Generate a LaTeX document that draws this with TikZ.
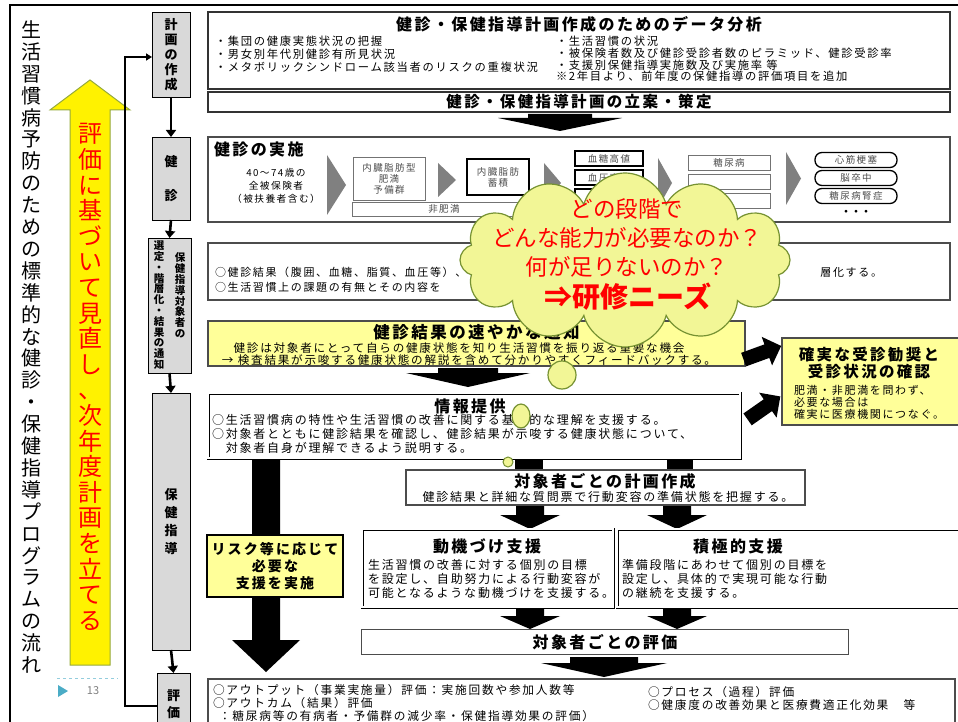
\documentclass[tikz,border=0pt]{standalone}
\usepackage{fontspec}
\setmainfont{Noto Sans CJK JP}
\newfontfamily\jsp{Noto Sans CJK JP}[LetterSpace=15]
\usetikzlibrary{arrows.meta,shapes.symbols,shapes.arrows,shapes.geometric}
\definecolor{boxgray}{HTML}{D9D9D9}
\definecolor{paleyellow}{HTML}{FFFF99}
\definecolor{cloudfill}{RGB}{242,246,150}
\definecolor{cloudedge}{RGB}{118,146,50}
\definecolor{arrowedge}{RGB}{150,170,60}
\definecolor{chevron}{HTML}{808080}
\definecolor{slideteal}{HTML}{4BACC6}
\newcommand\fsz[2]{\fontsize{#1}{#2}\selectfont}
% down-pointing block arrow: centre x, top y, shaft half-width, head half-width, shaft length, head length
\newcommand\blockdown[6]{%
  \fill[black] (#1-#3,#2) -- (#1+#3,#2) -- (#1+#3,#2+#5) -- (#1+#4,#2+#5)
    -- (#1,#2+#5+#6) -- (#1-#4,#2+#5) -- (#1-#3,#2+#5) -- cycle;}
% right-pointing grey chevron: left x, top y, bottom y, width
\newcommand\chev[4]{\fill[chevron] (#1,#2) -- (#1+#4,{(#2+#3)/2}) -- (#1,#3) -- cycle;}
\begin{document}
\begin{tikzpicture}[x=1pt,y=-1pt,
  every node/.style={inner sep=0pt,outer sep=0pt},
  framebox/.style={draw=black!80,line width=1.3pt},
  lcol/.style={draw,fill=boxgray,line width=0.8pt,font=\bfseries\fsz{13}{15},align=center},
  stepflow/.style={line width=2.6pt,-{Triangle[width=10pt,length=7pt]}},
  ttl/.style={font=\jsp\bfseries\fsz{16}{18}},
  smallbox/.style={draw,line width=0.6pt,font=\jsp\fsz{9.5}{11},text=black!70,align=center},
  tagbox/.style={draw,line width=1.3pt,rounded corners=7pt,font=\jsp\fsz{9.5}{11},text=black!70},
  dbl/.style={draw,double,double distance=1.4pt,line width=0.8pt},
  bentarrow/.style={single arrow,fill=black,inner sep=7pt,minimum height=40pt,single arrow head extend=8pt}
]
\useasboundingbox (0,0) rectangle (958,722);
\clip (0,0) rectangle (958,722);
\fill[white] (0,0) rectangle (958,722);

% slide frame
\draw[line width=2.5pt] (10,722) -- (10,5) -- (958,5);

% programme title, set vertically
\node[font=\fsz{20}{21.9},align=center] (title) at (31,347)
  {生\\活\\習\\慣\\病\\予\\防\\の\\た\\め\\の\\標\\準\\的\\な\\健\\診\\・\\保\\健\\指\\導\\プ\\ロ\\グ\\ラ\\ム\\の\\流\\れ};

% feedback arrow
\filldraw[fill=yellow,draw=arrowedge,line width=1pt]
  (70,665) -- (70,110) -- (50,110) -- (90,80) -- (130,110) -- (110,110) -- (110,665) -- cycle;
\node[text=red,font=\fsz{24}{25.6},align=center] (revise) at (90,377)
  {評\\価\\に\\基\\づ\\い\\て\\見\\直\\し\\、\\次\\年\\度\\計\\画\\を\\立\\て\\る};

% page number
\draw[slideteal!60,dashed] (57,678) -- (118,678);
\fill[slideteal] (58,685) -- (68,691) -- (58,697) -- cycle;
\node[text=black!50,font=\fsz{11}{11}] (pageno) at (93,691) {13};

% stage column
\node[lcol,minimum width=38pt,minimum height=85pt] (L1) at (171,54.5) {計\\画\\の\\作\\成};
\node[lcol,minimum width=38pt,minimum height=83pt] (L2) at (171,178.5) {健\\[19pt]診};
\node[lcol,minimum width=43pt,minimum height=135pt] (L3) at (169.5,305.5) {};
\node[font=\bfseries\fsz{10.5}{10.8},align=center,anchor=north] (L3a) at (159,241)
  {選\\定\\・\\階\\層\\化\\・\\結\\果\\の\\通\\知};
\node[font=\bfseries\fsz{10.5}{10.8},align=center,anchor=north] (L3b) at (180,253)
  {保\\健\\指\\導\\対\\象\\者\\の};
\node[lcol,minimum width=38pt,minimum height=257pt,font=\bfseries\fsz{13}{18}] (L4) at (171,521.5) {保\\健\\指\\導};
\node[lcol,minimum width=33pt,minimum height=62pt,font=\bfseries\fsz{13}{17}] (L5) at (173.5,704) {評\\価};
\draw[stepflow] (L1.south) -- (L2.north);
\draw[stepflow] (L2.south) -- (L3.north);
\draw[stepflow] (L3.south) -- (L4.north);
\draw[stepflow] (L4.south) -- (L5.north);
% loop back from evaluation to planning
\coordinate (bkb) at (125,706);
\coordinate (bkt) at (125,57);
\draw[line width=1.5pt,-{Triangle[width=7pt,length=6pt]}]
  (L5.west |- bkb) -- (bkb) -- (bkt) -- (L1.west |- bkt);

% data analysis
\node[framebox,minimum width=742pt,minimum height=77pt] (data) at (579,50.5) {};
\node[ttl] (dataT) at (579,24) {健診・保健指導計画作成のためのデータ分析};
\node[font=\jsp\fsz{11.3}{13},align=left,anchor=north west] (dataL) at (215,36)
  {・集団の健康実態状況の把握\\・男女別年代別健診有所見状況\\・メタボリックシンドローム該当者のリスクの重複状況};
\node[font=\jsp\fsz{11.3}{11.8},align=left,anchor=north west] (dataR) at (556,36)
  {・生活習慣の状況\\・被保険者数及び健診受診者数のピラミッド、健診受診率\\・支援別保健指導実施数及び実施率 等\\※2年目より、前年度の保健指導の評価項目を追加};
\node[framebox,minimum width=742pt,minimum height=20pt,font=\jsp\bfseries\fsz{15.5}{15.5}] (plan) at (579,102)
  {健診・保健指導計画の立案・策定};
\blockdown{560}{114}{32}{62}{4}{13}

% health check-up
\node[draw=black!70,line width=1.2pt,minimum width=742pt,minimum height=85pt] (exam) at (579,179.5) {};
\node[font=\jsp\bfseries\fsz{16}{16},anchor=west] (examT) at (214,149) {健診の実施};
\node[font=\jsp\fsz{9.7}{13},align=center] (pop) at (276,186) {40～74歳の\\全被保険者\\（被扶養者含む）};
\chev{327}{155}{215}{19}
\node[smallbox,draw=black!55,minimum width=72pt,minimum height=43pt] (pre) at (389,178.5) {内臓脂肪型\\肥満\\予備群};
\chev{438}{163}{197}{18}
\node[smallbox,line width=1.6pt,minimum width=62pt,minimum height=36pt] (fat) at (498,177) {内臓脂肪\\蓄積};
\node[smallbox,draw=black!55,minimum width=183pt,minimum height=14pt] (nonob) at (444,209) {非肥満};
\chev{544}{163}{203}{17}
\node[smallbox,line width=1.6pt,minimum width=68pt,minimum height=15pt] (bg) at (609,158.5) {血糖高値};
\node[smallbox,line width=1.6pt,minimum width=68pt,minimum height=15pt] (bp) at (609,177.5) {血圧高値};
\node[smallbox,line width=1.6pt,minimum width=68pt,minimum height=15pt] (lp) at (609,196.5) {};
\chev{658}{158}{208}{14}
\node[smallbox,draw=black!55,minimum width=82pt,minimum height=15pt] (dm) at (729,162.5) {糖尿病};
\node[smallbox,draw=black!55,minimum width=82pt,minimum height=15pt] (ht) at (729,181.5) {};
\node[smallbox,draw=black!55,minimum width=82pt,minimum height=15pt] (dl) at (729,200.5) {};
\chev{786}{152}{205}{15}
\node[tagbox,minimum width=82pt,minimum height=15pt] (mi) at (856,160) {心筋梗塞};
\node[tagbox,minimum width=82pt,minimum height=15pt] (st) at (856,178) {脳卒中};
\node[tagbox,minimum width=82pt,minimum height=15pt] (dn) at (856,196) {糖尿病腎症};
\node[font=\bfseries\fsz{10}{10}] (etc) at (856,213) {・・・};

% selection and stratification
\node[draw=black!70,line width=1.2pt,minimum width=742pt,minimum height=57pt] (sel) at (579,271.5) {};
\node[font=\jsp\fsz{11}{15},align=left,anchor=west] (selL) at (215,279.5)
  {○健診結果（腹囲、血糖、脂質、血圧等）、\\○生活習慣上の課題の有無とその内容を};
\node[font=\jsp\fsz{11}{15},anchor=east] (selR) at (882,272) {層化する。};

% prompt notification of results
\node[draw=black!70,fill=paleyellow,line width=1.2pt,minimum width=537pt,minimum height=45pt] (notify) at (476.5,343.5) {};
\node[font=\jsp\bfseries\fsz{16.5}{16.5}] (notifyT) at (476.5,332) {健診結果の速やかな通知};
\node[font=\jsp\fsz{11.6}{11.5},align=left] (notifyB) at (469,354)
  {\hspace*{11.7pt}健診は対象者にとって自らの健康状態を知り生活習慣を振り返る重要な機会\\→\ 検査結果が示唆する健康状態の解説を含めて分かりやすくフィードバックする。};
\blockdown{468}{368}{30}{62}{5}{14}

% referral
\node[draw=black!70,fill=paleyellow,line width=1.2pt,minimum width=188pt,minimum height=87pt] (confirm) at (876,381.5) {};
\node[font=\jsp\bfseries\fsz{15.5}{17},align=center] (confirmT) at (869,363) {確実な受診勧奨と\\受診状況の確認};
\node[font=\jsp\fsz{11}{12.2},align=left,anchor=north west] (confirmB) at (794,385)
  {肥満・非肥満を問わず、\\必要な場合は\\確実に医療機関につなぐ。};
\node[bentarrow,rotate=20] (toconf1) at (759,354) {};
\node[bentarrow,rotate=35] (toconf2) at (761,410) {};

% information
\node[dbl,minimum width=532pt,minimum height=65pt] (info) at (474,425.5) {};
\node[ttl] (infoT) at (470,406) {情報提供};
\node[font=\jsp\fsz{12}{14},align=left,anchor=north west] (infoB) at (212,414)
  {○生活習慣病の特性や生活習慣の改善に関する基礎的な理解を支援する。\\○対象者とともに健診結果を確認し、健診結果が示唆する健康状態について、\\\hspace*{13.8pt}対象者自身が理解できるよう説明する。};

% support according to risk
\blockdown{266}{460}{14}{34}{180}{32}
\node[draw,fill=paleyellow,line width=1.8pt,minimum width=136pt,minimum height=62pt,font=\jsp\bfseries\fsz{14}{17},align=center] (risk) at (275,566)
  {リスク等に応じて\\必要な\\支援を実施};

% individual plan
\fill[black] (515,459) rectangle (543,470);
\fill[black] (667,459) rectangle (693,470);
\node[draw=black!70,line width=1.2pt,minimum width=399pt,minimum height=35pt] (iplan) at (605.5,487.5) {};
\node[ttl] (iplanT) at (605,481) {対象者ごとの計画作成};
\node[font=\jsp\fsz{12}{12}] (iplanB) at (608,497) {健診結果と詳細な質問票で行動変容の準備状態を把握する。};
\blockdown{530}{506}{14}{30}{9}{14}
\blockdown{677}{506}{14}{30}{9}{14}

% motivational and active support
\node[dbl,minimum width=251pt,minimum height=78pt] (motiv) at (487.5,568) {};
\node[ttl] (motivT) at (487,546) {動機づけ支援};
\node[font=\jsp\fsz{12}{14},align=left,anchor=north west] (motivB) at (368,559)
  {生活習慣の改善に対する個別の目標\\を設定し、自助努力による行動変容が\\可能となるような動機づけを支援する。};
\node[dbl,minimum width=353pt,minimum height=78pt] (active) at (793.5,568) {};
\node[ttl] (activeT) at (738,546) {積極的支援};
\node[font=\jsp\fsz{12}{14},align=left,anchor=north west] (activeB) at (622,559)
  {準備段階にあわせて個別の目標を\\設定し、具体的で実現可能な行動\\の継続を支援する。};
\blockdown{530}{609}{14}{30}{7}{13}
\blockdown{677}{609}{14}{30}{7}{13}

% individual evaluation
\node[draw=black!70,line width=1.2pt,minimum width=487pt,minimum height=25pt,font=\jsp\bfseries\fsz{16}{16}] (ieval) at (605,642) {対象者ごとの評価};
\blockdown{604}{657}{34}{63}{6}{14}

% evaluation
\node[draw=black!70,line width=1.2pt,minimum width=747pt,minimum height=57pt] (evalbox) at (581.5,707.5) {};
\node[font=\jsp\fsz{11.7}{13},align=left,anchor=north west] (evalL) at (213,684)
  {○アウトプット（事業実施量）評価：実施回数や参加人数等\\○アウトカム（結果）評価\\\hspace*{6pt}：糖尿病等の有病者・予備群の減少率・保健指導効果の評価）};
\node[font=\jsp\fsz{11.7}{13},align=left,anchor=north west] (evalR) at (648,686)
  {○プロセス（過程）評価\\○健康度の改善効果と医療費適正化効果　等};

% thought cloud
\node[cloud,cloud puffs=12,aspect=1.9,draw=cloudedge,fill=cloudfill,line width=1.2pt,minimum width=330pt,minimum height=174pt] (cloud) at (625,260) {};
\filldraw[fill=cloudfill,draw=cloudedge,line width=1.2pt] (562,375) circle (14);
\node[draw=cloudedge,fill=cloudfill,line width=1.2pt,ellipse,minimum width=18pt,minimum height=24pt] (bub2) at (521,416) {};
\filldraw[fill=cloudfill,draw=cloudedge,line width=1pt] (508,462) circle (5);
\node[text=red,font=\fsz{22.5}{29},align=center] (cloudT) at (627,238)
  {どの段階で\\どんな能力が必要なのか？\\何が足りないのか？};
\node[text=red,font=\bfseries\fsz{28}{28}] (needs) at (628,297) {⇒研修ニーズ};
\end{tikzpicture}
\end{document}
